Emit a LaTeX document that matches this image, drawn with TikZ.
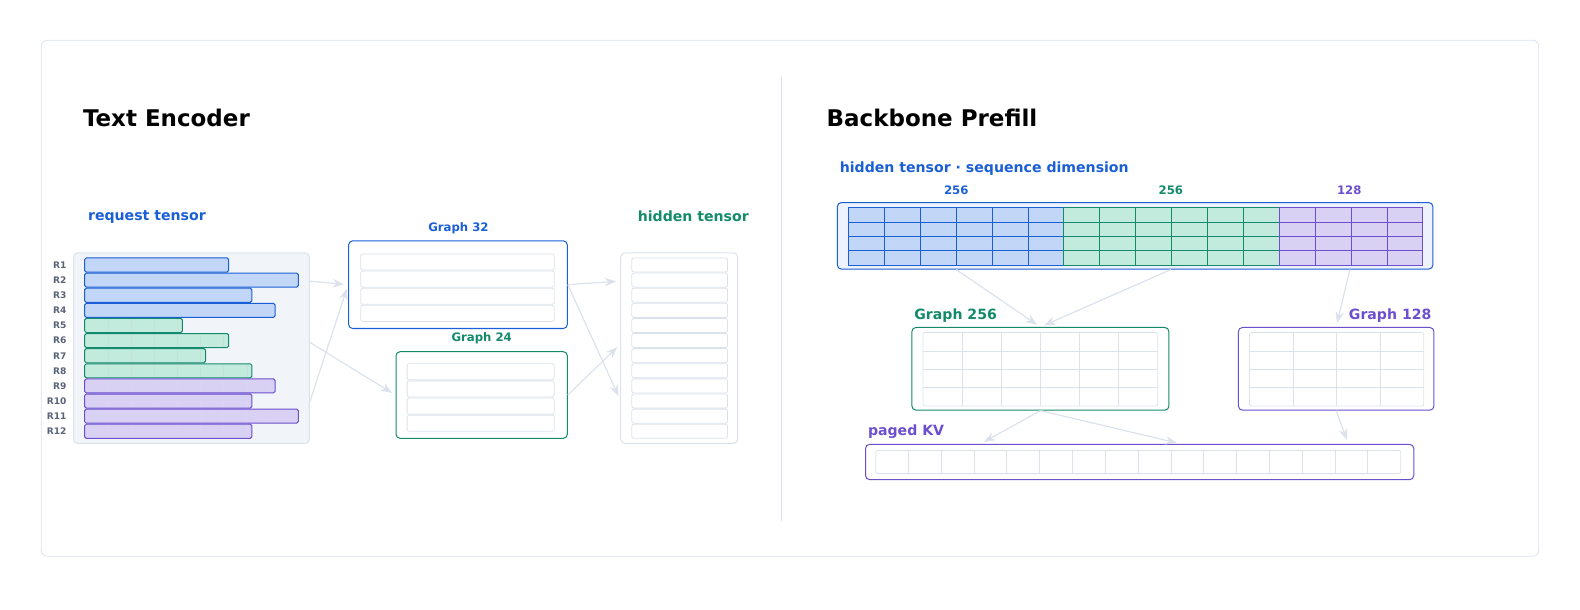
\documentclass[tikz,border=0pt]{standalone}
\usepackage{fontspec}
\setmainfont{DejaVu Sans}
\usetikzlibrary{calc,arrows.meta}
\definecolor{cblue}{HTML}{1A5FD6}
\definecolor{cgreen}{HTML}{138A6A}
\definecolor{cpurple}{HTML}{6B4FCF}
\definecolor{fblue}{HTML}{C2D6F8}
\definecolor{fgreen}{HTML}{C2EADD}
\definecolor{fpurple}{HTML}{D9D1F3}
\definecolor{cline}{HTML}{DCE2EC}
\definecolor{cpanel}{HTML}{F1F4F8}
\definecolor{cgray}{HTML}{5A6478}
\begin{document}
\begin{tikzpicture}[
		x=0.5pt, y=-0.5pt,
		>=Stealth,
		title/.style={font=\fontsize{11.4}{12}\selectfont\bfseries, anchor=west, inner sep=0pt},
		lbl/.style={font=\fontsize{7}{8}\selectfont\bfseries, inner sep=0pt},
		num/.style={font=\fontsize{5.8}{6}\selectfont\bfseries},
		box/.style={draw, rounded corners=2pt, line width=0.5pt},
		flow/.style={->, draw=cline, line width=0.6pt, shorten >=2pt},
	]
	\useasboundingbox (0,0) rectangle (1568,605);
	\draw[cline, rounded corners=3pt] (41,40) rectangle (1527,552);
	\draw[cline] (775,76) -- (775,517);

	% titles
	\node[title] (tenc) at (82,117) {Text Encoder};
	\node[title] (tbb) at (820,117) {Backbone Prefill};

	% request tensor
	\node[lbl, text=cblue, anchor=west] (lreq) at (87,215) {request tensor};
	\node[box, draw=cline, fill=cpanel, minimum width=117pt, minimum height=94.5pt] (req) at (190,345.5) {};
	\foreach \i/\e/\c in {1/227/blue, 2/296/blue, 3/250/blue, 4/273/blue,
			5/181/green, 6/227/green, 7/204/green, 8/250/green,
			9/273/purple, 10/250/purple, 11/296/purple, 12/250/purple} {
		\pgfmathsetmacro\yc{248+15*\i}
		\draw[c\c, fill=f\c, rounded corners=0.8pt, line width=0.5pt] (84,\yc-7) rectangle (\e,\yc+7);
		\foreach \k in {1,...,9} {
			\pgfmathsetmacro\xk{84+23*\k}
			\ifdim\xk pt<\e pt \draw[c\c!25, line width=0.3pt] (\xk,\yc-6) -- (\xk,\yc+6); \fi
		}
		\node[font=\fontsize{4.5}{5}\selectfont\bfseries, text=cgray, anchor=east] (r\i) at (73,\yc) {R\i};
	}

	% graph 32 / graph 24
	\node[box, draw=cblue, minimum width=108.5pt, minimum height=43.5pt] (g32) at (454.5,282.5) {};
	\node[num, text=cblue] (lg32) at (455,227) {Graph 32};
	\foreach \j in {0,...,3}
		\draw[cline, fill=white, rounded corners=1pt] (358,252+17*\j) rectangle (550,268+17*\j);
	\node[box, draw=cgreen, minimum width=85pt, minimum height=43pt] (g24) at (478,392) {};
	\node[num, text=cgreen] (lg24) at (478,336) {Graph 24};
	\foreach \j in {0,...,3}
		\draw[cline, fill=white, rounded corners=1pt] (404,361+17*\j) rectangle (550,377+17*\j);

	% hidden tensor
	\node[lbl, text=cgreen] (lhid) at (688,215) {hidden tensor};
	\node[box, draw=cline, minimum width=58pt, minimum height=94.5pt] (hid) at (674,345.5) {};
	\foreach \j in {0,...,11}
		\draw[cline, fill=white, rounded corners=1pt] (627,256+15*\j) rectangle (722,270+15*\j);

	% encoder flows
	\draw[flow] ($(req.north east)!0.15!(req.south east)$) -- (g32.west);
	\draw[flow] ($(req.north east)!0.78!(req.south east)$) -- (g32.west);
	\draw[flow] ($(req.north east)!0.47!(req.south east)$) -- (g24.west);
	\draw[flow] (g32.east) -- ($(hid.north west)!0.15!(hid.south west)$);
	\draw[flow] (g32.east) -- ($(hid.north west)!0.77!(hid.south west)$);
	\draw[flow] (g24.east) -- ($(hid.north west)!0.48!(hid.south west)$);

	% sequence tensor
	\node[lbl, text=cblue, anchor=west] (lseq) at (833,167) {hidden tensor · sequence dimension};
	\node[num, text=cblue] (n1) at (949,189) {256};
	\node[num, text=cgreen] (n2) at (1162,189) {256};
	\node[num, text=cpurple] (n3) at (1339,189) {128};
	\node[box, draw=cblue, fill=cblue!8, minimum width=295.5pt, minimum height=33pt] (seq) at (1126.5,234) {};
	\foreach \k in {0,...,15} {
		\pgfmathsetmacro\xa{842+35.625*\k}
		\ifnum\k<6 \def\c{blue}\else\ifnum\k<12 \def\c{green}\else\def\c{purple}\fi\fi
		\foreach \j in {0,...,3}
			\draw[c\c, fill=f\c, line width=0.4pt] (\xa,206+14.25*\j) rectangle (\xa+35.625,220.25+14.25*\j);
	}

	% graph 256 / graph 128
	\node[box, draw=cgreen, minimum width=127.5pt, minimum height=41pt] (g256) at (1032.5,366) {};
	\node[lbl, text=cgreen, anchor=west] (lg256) at (907,313) {Graph 256};
	\draw[cline, rounded corners=1pt] (916,330) rectangle (1149,403);
	\foreach \k in {1,...,5} \draw[cline] (916+38.83*\k,330) -- (916+38.83*\k,403);
	\foreach \j in {1,2,3} \draw[cline] (916,330+18.25*\j) -- (1149,330+18.25*\j);
	\node[box, draw=cpurple, minimum width=97pt, minimum height=41pt] (g128) at (1326,366) {};
	\node[lbl, text=cpurple, anchor=east] (lg128) at (1421,313) {Graph 128};
	\draw[cline, rounded corners=1pt] (1240,330) rectangle (1413,403);
	\foreach \k in {1,2,3} \draw[cline] (1240+43.25*\k,330) -- (1240+43.25*\k,403);
	\foreach \j in {1,2,3} \draw[cline] (1240,330+18.25*\j) -- (1413,330+18.25*\j);

	% paged KV
	\node[lbl, text=cpurple, anchor=west] (lkv) at (861,428) {paged KV};
	\node[box, draw=cpurple, minimum width=272pt, minimum height=17.5pt] (kv) at (1131,458.5) {};
	\draw[cline, rounded corners=1pt] (869,447) rectangle (1390,470);
	\foreach \k in {1,...,15} \draw[cline] (869+32.56*\k,447) -- (869+32.56*\k,470);

	% prefill flows
	\draw[flow] ($(seq.south west)!0.2!(seq.south east)$) -- (g256.north);
	\draw[flow] ($(seq.south west)!0.56!(seq.south east)$) -- (g256.north);
	\draw[flow] ($(seq.south west)!0.86!(seq.south east)$) -- (g128.north);
	\draw[flow] (g256.south) -- ($(kv.north west)!0.21!(kv.north east)$);
	\draw[flow] (g256.south) -- ($(kv.north west)!0.575!(kv.north east)$);
	\draw[flow] (g128.south) -- ($(kv.north west)!0.88!(kv.north east)$);
\end{tikzpicture}
\end{document}
